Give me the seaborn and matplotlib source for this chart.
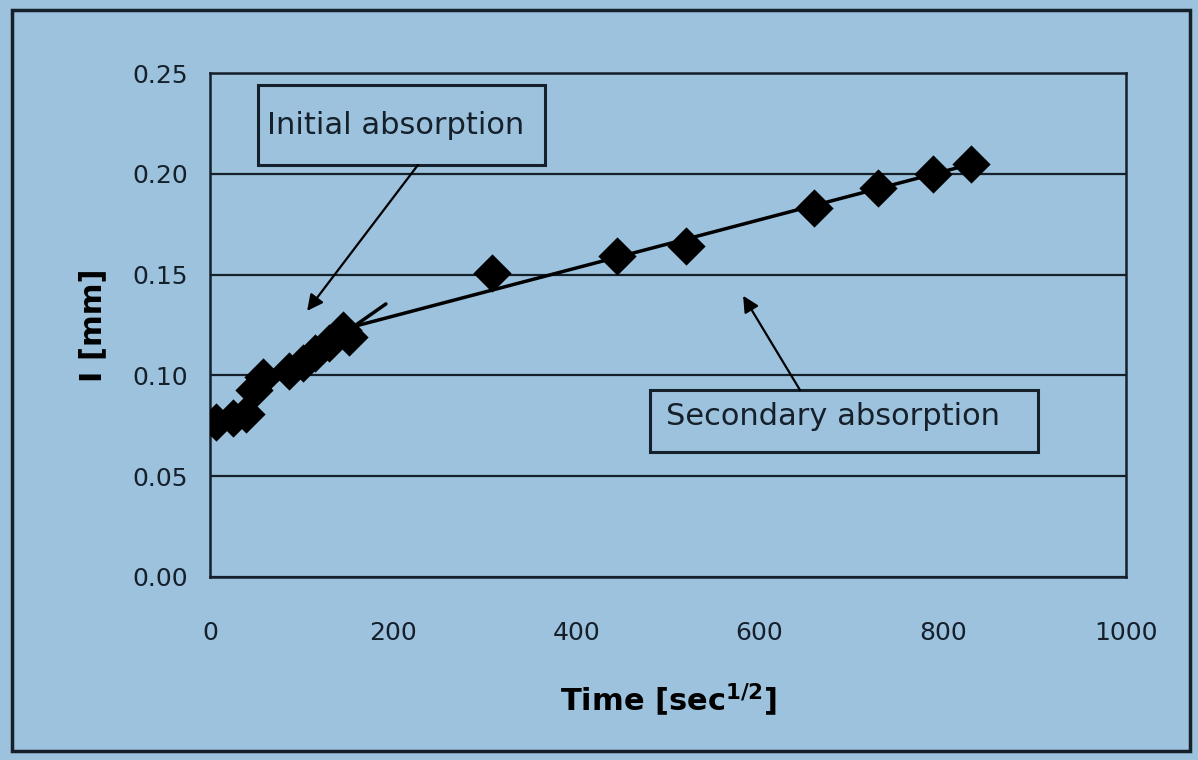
import numpy as np
import pandas as pd
import matplotlib
matplotlib.use("Agg")
import matplotlib.pyplot as plt
import seaborn as sns
from matplotlib.patches import Rectangle

# values
time_sqrt = [7, 25, 39, 48, 58, 86, 101, 115, 130, 145, 152,
             308, 444, 520, 659, 729, 789, 831]
depth_mm = [0.077, 0.079, 0.081, 0.093, 0.099, 0.102, 0.106, 0.111, 0.116, 0.1225, 0.119,
            0.151, 0.159, 0.164, 0.183, 0.193, 0.200, 0.205]
initial_span = [0, 192]
secondary_span = [150, 831]
x_ticks = [0, 200, 400, 600, 800, 1000]
y_ticks = [0.00, 0.05, 0.10, 0.15, 0.20, 0.25]

bg = "#9cc2dd"
dark = "#15202b"

df = pd.DataFrame({"t": time_sqrt, "i": depth_mm})

# two straight-line fits, like excel trendlines
init = df[df["t"] <= 155]
sec = df[df["t"] >= 140]
p1 = np.polyfit(init["t"], init["i"], 1)
p2 = np.polyfit(sec["t"], sec["i"], 1)
fit1 = pd.DataFrame({"t": initial_span, "i": np.polyval(p1, initial_span)})
fit2 = pd.DataFrame({"t": secondary_span, "i": np.polyval(p2, secondary_span)})

sns.set_style("white")
plt.rcParams["font.family"] = ["DejaVu Sans"]

fig = plt.figure(figsize=(11.98, 7.6), dpi=100)
fig.patch.set_facecolor(bg)
ax = fig.add_axes([0.1753, 0.2408, 0.7646, 0.6631])
ax.set_facecolor(bg)

sns.lineplot(data=fit1, x="t", y="i", ax=ax, color="black", linewidth=2.5)
sns.lineplot(data=fit2, x="t", y="i", ax=ax, color="black", linewidth=2.5)
sns.scatterplot(data=df, x="t", y="i", ax=ax, marker="D", s=380,
                color="black", edgecolor="black", linewidth=0, zorder=5)

ax.set_xlim(0, 1000)
ax.set_ylim(0, 0.25)
ax.set_xticks(x_ticks)
ax.set_yticks(y_ticks)
ax.set_yticklabels([f"{v:.2f}" for v in y_ticks])
ax.yaxis.grid(True, color=dark, linewidth=1.6)
ax.set_axisbelow(True)
for s in ax.spines.values():
    s.set_color(dark)
    s.set_linewidth(1.8)
ax.tick_params(axis="both", direction="out", length=8, width=1.5, color=dark,
               labelsize=18, labelcolor=dark, pad=8)
ax.tick_params(axis="x", pad=24)

ax.set_xlabel(r"Time [sec$^{\mathbf{1/2}}$]", fontsize=22, fontweight="bold",
              color="black", labelpad=26)
ax.set_ylabel("I [mm]", fontsize=22, fontweight="bold", color="black", labelpad=18)

# text boxes drawn as rectangles so the padding can differ per side
arrow = dict(arrowstyle="-|>", color="black", linewidth=1.6, mutation_scale=24,
             shrinkA=0, shrinkB=0)
ax.add_patch(Rectangle((52, 0.2044), 314, 0.0396, facecolor=bg, edgecolor=dark,
                       linewidth=2.2, zorder=6))
ax.text(203, 0.2242, "Initial absorption", fontsize=22, color=dark,
        ha="center", va="center", zorder=7)
ax.annotate("", xy=(106, 0.132), xytext=(227, 0.2044), arrowprops=arrow, zorder=7)

ax.add_patch(Rectangle((480, 0.062), 424, 0.0308, facecolor=bg, edgecolor=dark,
                       linewidth=2.2, zorder=6))
ax.text(680, 0.0795, "Secondary absorption", fontsize=22, color=dark,
        ha="center", va="center", zorder=7)
ax.annotate("", xy=(582, 0.1395), xytext=(644, 0.0928), arrowprops=arrow, zorder=7)

fig.patches.append(Rectangle((0.01, 0.012), 0.983, 0.975, transform=fig.transFigure,
                             fill=False, edgecolor=dark, linewidth=2.5))

fig.savefig("out.png", dpi=100, facecolor=bg)
